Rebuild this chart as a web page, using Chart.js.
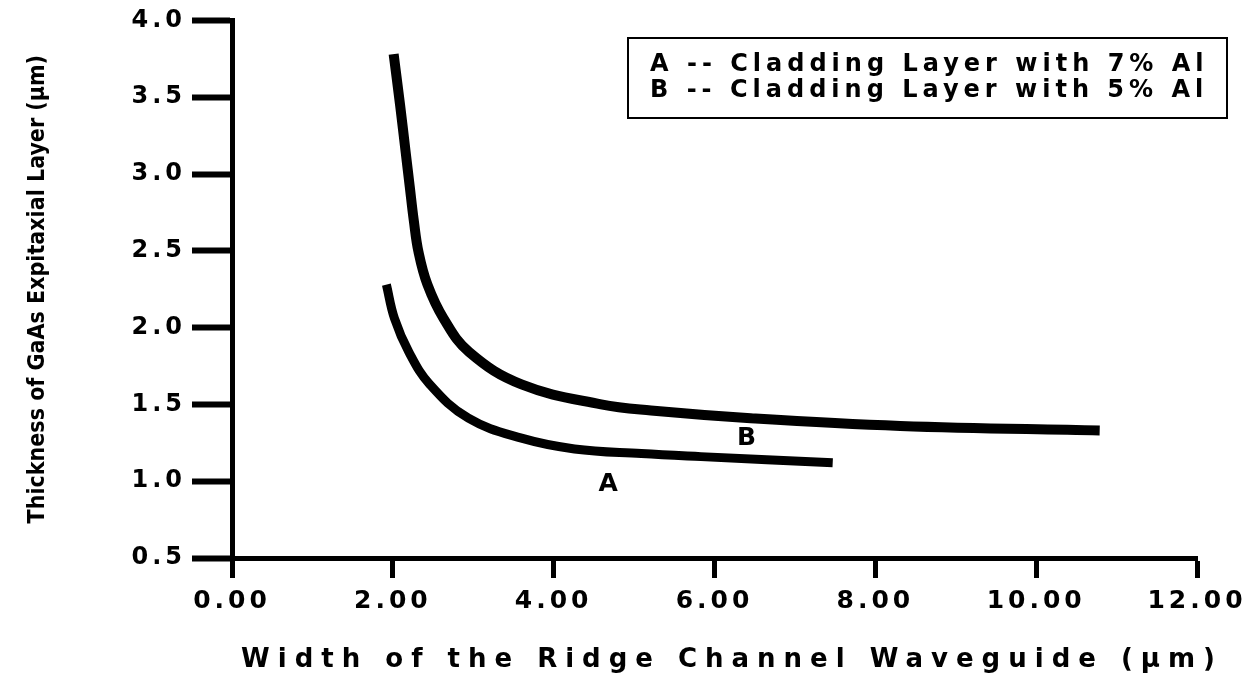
<!DOCTYPE html>
<html>
<head>
<meta charset="utf-8">
<script src="https://cdn.jsdelivr.net/npm/chart.js@4.4.1/dist/chart.umd.min.js"></script>
<style>
  html, body { margin: 0; padding: 0; background: #fff; }
  #wrap { width: 1257px; height: 677px; }
</style>
</head>
<body>
<div id="wrap"><canvas id="chart"></canvas></div>
<script>
// values
const series_a_x = [1.92, 2.02, 2.20, 2.46, 2.94, 3.60, 4.26, 5.09, 5.83, 7.47];
const series_a_y = [2.28, 2.06, 1.84, 1.63, 1.41, 1.28, 1.21, 1.18, 1.16, 1.12];

const series_b_x = [2.01, 2.09, 2.16, 2.21, 2.26, 2.32, 2.43, 2.63, 2.95, 3.60, 4.59, 5.21, 6.45, 8.31, 10.79];
const series_b_y = [3.78, 3.45, 3.14, 2.92, 2.70, 2.49, 2.28, 2.06, 1.84, 1.63, 1.50, 1.46, 1.41, 1.36, 1.33];

const legend_lines = ['A -- Cladding Layer with 7% Al', 'B -- Cladding Layer with 5% Al'];
const curve_labels = ['A', 'B'];
const curve_label_pos = [[4.71, 0.98], [6.43, 1.28]];

const x_title = 'Width of the Ridge Channel Waveguide (\u00b5m)';
const y_title = 'Thickness of GaAs Expitaxial Layer (\u00b5m)';

const x_min = 0, x_max = 12, x_step = 2;
const y_min = 0.5, y_max = 4.0, y_step = 0.5;

const WIDE_FONT = '"DejaVu Sans", sans-serif';
const NARROW_FONT = '"DejaVu Sans Condensed", "Liberation Sans Narrow", sans-serif';

function toPoints(xs, ys) {
    return xs.map((x, i) => ({x: x, y: ys[i]}));
}

// spacing for tick labels (drawn after datasets because ticks.z = 1)
const spacingPlugin = {
    id: 'spacing',
    afterDatasetsDraw(chart) {
        chart.ctx.letterSpacing = '4px';
    },
    afterDraw(chart) {
        const ctx = chart.ctx;
        const xs = chart.scales.x;
        const ys = chart.scales.y;
        ctx.save();
        ctx.fillStyle = '#000';
        ctx.strokeStyle = '#000';

        // x axis title, wide letter spacing like the original
        ctx.letterSpacing = '8px';
        ctx.font = 'bold 26px ' + WIDE_FONT;
        ctx.textAlign = 'center';
        ctx.textBaseline = 'middle';
        ctx.fillText(x_title, 732, 660);

        // legend box
        ctx.letterSpacing = '5px';
        ctx.lineWidth = 2;
        ctx.strokeRect(628, 38, 599, 80);
        ctx.font = 'bold 24px ' + WIDE_FONT;
        ctx.textAlign = 'left';
        ctx.fillText(legend_lines[0], 650, 65);
        ctx.fillText(legend_lines[1], 650, 91);

        // A / B labels next to curves
        ctx.font = 'bold 25px ' + WIDE_FONT;
        ctx.textAlign = 'center';
        curve_labels.forEach((lab, i) => {
            const p = curve_label_pos[i];
            ctx.fillText(lab, xs.getPixelForValue(p[0]), ys.getPixelForValue(p[1]));
        });
        ctx.restore();
        ctx.letterSpacing = '0px';
    }
};

const curve_style = {
    showLine: true,
    pointRadius: 0,
    borderColor: '#000',
    backgroundColor: '#000',
    fill: false,
    tension: 0.4,
    borderCapStyle: 'butt',
    borderJoinStyle: 'round'
};

const config = {
    type: 'scatter',
    data: {
        datasets: [
            Object.assign({label: 'A', data: toPoints(series_a_x, series_a_y), borderWidth: 9}, curve_style),
            Object.assign({label: 'B', data: toPoints(series_b_x, series_b_y), borderWidth: 10}, curve_style)
        ]
    },
    options: {
        responsive: true,
        maintainAspectRatio: false,
        animation: false,
        layout: { padding: { top: 17, right: 60, bottom: 0, left: 0 } },
        plugins: {
            legend: { display: false },
            tooltip: { enabled: false }
        },
        scales: {
            x: {
                type: 'linear',
                min: x_min,
                max: x_max,
                afterFit: (s) => { s.height = 119; },
                ticks: {
                    stepSize: x_step,
                    callback: (v) => Number(v).toFixed(2),
                    font: { family: WIDE_FONT, weight: 'bold', size: 25 },
                    color: '#000',
                    padding: 8,
                    maxRotation: 0,
                    z: 1
                },
                grid: {
                    display: true,
                    drawOnChartArea: false,
                    drawTicks: true,
                    tickLength: 20,
                    tickWidth: 5,
                    tickColor: '#000'
                },
                border: { display: true, color: '#000', width: 5 }
            },
            y: {
                type: 'linear',
                min: y_min,
                max: y_max,
                afterFit: (s) => { s.width = 232; },
                ticks: {
                    stepSize: y_step,
                    callback: (v) => Number(v).toFixed(1),
                    font: { family: WIDE_FONT, weight: 'bold', size: 24 },
                    color: '#000',
                    padding: 6,
                    z: 1
                },
                grid: {
                    display: true,
                    drawOnChartArea: false,
                    drawTicks: true,
                    tickLength: 40,
                    tickWidth: 6,
                    tickColor: '#000'
                },
                border: { display: true, color: '#000', width: 5 },
                title: {
                    display: true,
                    text: y_title,
                    color: '#000',
                    font: { family: NARROW_FONT, weight: 'bold', size: 23 },
                    padding: { top: 24, bottom: 0 }
                }
            }
        }
    },
    plugins: [spacingPlugin]
};

new Chart(document.getElementById('chart').getContext('2d'), config);
</script>
</body>
</html>
